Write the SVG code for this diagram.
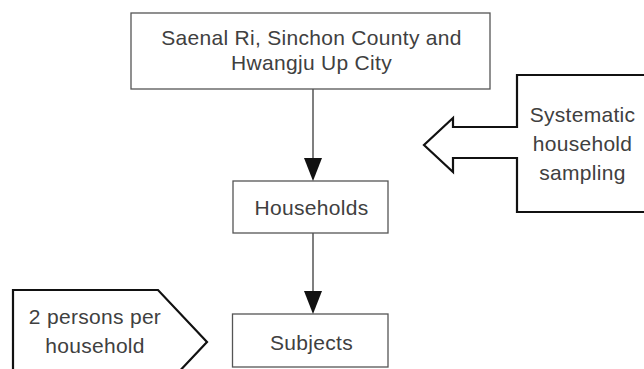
<svg xmlns="http://www.w3.org/2000/svg" width="644" height="369" viewBox="0 0 644 369">
<style>
.box{fill:#fff;stroke:#555;stroke-width:1.3}
.shape{fill:#fff;stroke:#111;stroke-width:2.2;stroke-linejoin:miter}
.t{font-family:"Liberation Sans",Arial,sans-serif;font-size:21px;letter-spacing:0.3px;fill:#404040;text-anchor:middle}
.line{stroke:#555;stroke-width:1.5;fill:none}
.head{fill:#111}
</style>
<rect width="644" height="369" fill="#fff"/>
<g id="node-top">
<rect class="box" x="131" y="13" width="359" height="76"/>
<text class="t" x="311.5" y="45">Saenal Ri, Sinchon County and</text>
<text class="t" x="311.5" y="69.5">Hwangju Up City</text>
</g>
<g id="node-households">
<rect class="box" x="233" y="181" width="155" height="52"/>
<text class="t" x="311.5" y="214.5">Households</text>
</g>
<g id="node-subjects">
<rect class="box" x="232.5" y="314" width="155.5" height="53"/>
<text class="t" x="311.5" y="349.5">Subjects</text>
</g>
<g id="node-sampling">
<path class="shape" d="M650,75 L517,75 L517,127 L453,127 L453,118 L424,145 L453,172 L453,158 L517,158 L517,212 L650,212"/>
<text class="t" x="582.5" y="121.7">Systematic</text>
<text class="t" x="582.5" y="151">household</text>
<text class="t" x="582.5" y="180">sampling</text>
</g>
<g id="node-persons">
<path class="shape" d="M13,400 L13,290 L158,290 L207,342 L158,394"/>
<text class="t" x="95" y="324">2 persons per</text>
<text class="t" x="95" y="353.3">household</text>
</g>
<g id="connectors">
<line class="line" x1="313" y1="89" x2="313" y2="160"/>
<polygon class="head" points="304,158 322,158 313,181"/>
<line class="line" x1="313" y1="233" x2="313" y2="293"/>
<polygon class="head" points="304,291 322,291 313,314"/>
</g>
</svg>
